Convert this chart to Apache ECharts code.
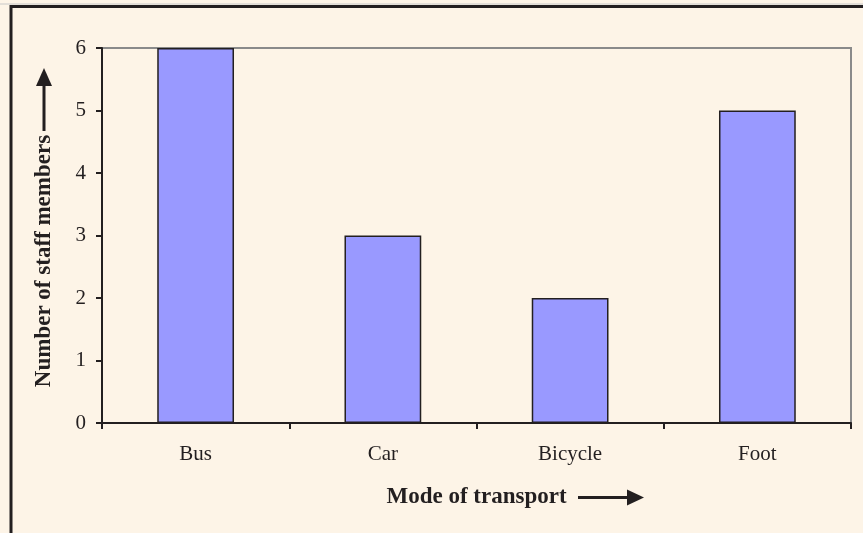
<!DOCTYPE html>
<html>
<head>
<meta charset="utf-8">
<script src="https://cdn.jsdelivr.net/npm/echarts@6/dist/echarts.min.js"></script>
<style>
html,body{margin:0;padding:0;background:#FDF4E7;}
#chart{width:863px;height:533px;}
</style>
</head>
<body>
<div id="chart"></div>
<script>
const categories = ['Bus', 'Car', 'Bicycle', 'Foot'];
const staffCounts = [6, 3, 2, 5];
const yTicks = [0, 1, 2, 3, 4, 5, 6];
const xTitle = 'Mode of transport';
const yTitle = 'Number of staff members';

const chart = echarts.init(document.getElementById('chart'), null, {renderer: 'canvas'});
const serif = '"Liberation Serif", "Times New Roman", serif';
const ink = '#231F20';

chart.setOption({
  animation: false,
  backgroundColor: '#FDF4E7',
  grid: {
    left: 102, right: 12, top: 48, bottom: 110,
    show: true, borderColor: '#8a8a8a', borderWidth: 2, backgroundColor: 'transparent'
  },
  xAxis: {
    type: 'category',
    data: categories,
    boundaryGap: true,
    name: xTitle,
    nameLocation: 'middle',
    nameGap: 63,
    nameTextStyle: {fontFamily: serif, fontSize: 23, fontWeight: 'bold', color: ink},
    axisLine: {show: true, lineStyle: {color: ink, width: 2}},
    axisTick: {show: true, alignWithLabel: false, length: 6, lineStyle: {color: ink, width: 2}},
    axisLabel: {fontFamily: serif, fontSize: 21, color: ink, margin: 21},
    splitLine: {show: false}
  },
  yAxis: {
    type: 'value',
    min: yTicks[0],
    max: yTicks[yTicks.length - 1],
    interval: 1,
    name: yTitle,
    nameLocation: 'middle',
    nameRotate: 90,
    nameGap: 46,
    nameTextStyle: {fontFamily: serif, fontSize: 23, fontWeight: 'bold', color: ink, padding: [0, 51, 0, 0]},
    axisLine: {show: true, lineStyle: {color: ink, width: 2}},
    axisTick: {show: true, length: 6, lineStyle: {color: ink, width: 2}},
    axisLabel: {fontFamily: serif, fontSize: 21, color: ink, margin: 16},
    splitLine: {show: false}
  },
  series: [{
    type: 'bar',
    data: staffCounts,
    barWidth: '41%',
    itemStyle: {color: '#9999FF', borderColor: ink, borderWidth: 1.5}
  }],
  graphic: [
    {type: 'line', silent: true, shape: {x1: 0, y1: 4, x2: 863, y2: 4}, style: {stroke: '#c8c8c8', lineWidth: 1}},
    {type: 'rect', silent: true, shape: {x: 11, y: 6.5, width: 900, height: 600}, style: {fill: 'none', stroke: ink, lineWidth: 3}},
    {type: 'line', silent: true, shape: {x1: 44, y1: 131, x2: 44, y2: 82}, style: {stroke: ink, lineWidth: 3}},
    {type: 'polygon', silent: true, shape: {points: [[44, 68], [36, 86], [52, 86]]}, style: {fill: ink}},
    {type: 'line', silent: true, shape: {x1: 578, y1: 497.5, x2: 630, y2: 497.5}, style: {stroke: ink, lineWidth: 3}},
    {type: 'polygon', silent: true, shape: {points: [[644, 497.5], [627, 489.5], [627, 505.5]]}, style: {fill: ink}}
  ]
});
</script>
</body>
</html>
